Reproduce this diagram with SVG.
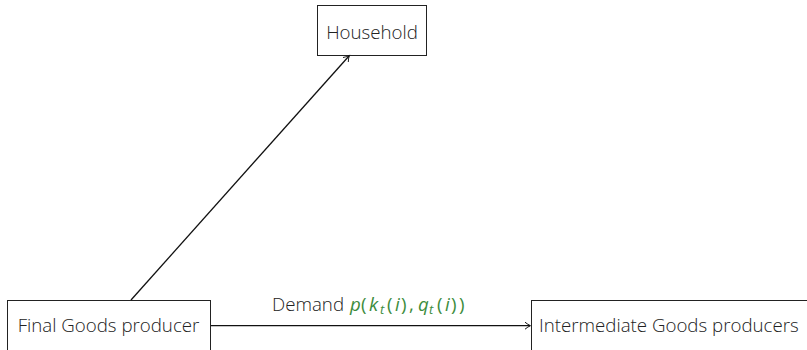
<svg xmlns="http://www.w3.org/2000/svg" width="807" height="350" viewBox="0 0 807 350">
<style>
.box{fill:#fff;stroke:#222;stroke-width:1}
.lbl{font-family:"Open Sans",sans-serif;font-weight:300;font-size:18.7px;fill:#222}
.math{font-family:"Open Sans",sans-serif;font-size:18.7px;fill:#3c8c3c}
.it{font-style:italic}
.sub{font-style:italic;font-size:13px}
.edge{stroke:#111;stroke-width:1.3;fill:none}
</style>
<defs>
<marker id="arr" markerWidth="10" markerHeight="10" refX="7" refY="5" orient="auto" markerUnits="userSpaceOnUse">
<path d="M2,1.5 Q5,4 7.5,5 Q5,6 2,8.5" fill="none" stroke="#111" stroke-width="1"/>
</marker>
</defs>
<rect width="807" height="350" fill="#fff"/>
<g id="household">
<rect class="box" x="317.5" y="5.5" width="109" height="50"/>
<text class="lbl" x="372" y="39" text-anchor="middle">Household</text>
</g>
<g id="final">
<rect class="box" x="7.5" y="300.5" width="203" height="60"/>
<text class="lbl" x="108.5" y="332" text-anchor="middle">Final Goods producer</text>
</g>
<g id="intermediate">
<rect class="box" x="531.5" y="300.5" width="285" height="60"/>
<text class="lbl" x="539" y="332">Intermediate Goods producers</text>
</g>
<g id="connectors">
<line class="edge" x1="131" y1="300" x2="349" y2="56" marker-end="url(#arr)"/>
<line class="edge" x1="211" y1="325.7" x2="530" y2="325.7" marker-end="url(#arr)"/>
<text class="lbl" x="272" y="311">Demand</text>
<text class="math" y="311"><tspan class="it" x="350">p</tspan><tspan x="361">(</tspan><tspan class="it" x="369">k</tspan><tspan class="sub" x="380" y="314">t</tspan><tspan x="387" y="311">(</tspan><tspan class="it" x="395">i</tspan><tspan x="401">)</tspan><tspan x="409">,</tspan><tspan class="it" x="418">q</tspan><tspan class="sub" x="429" y="314">t</tspan><tspan x="437" y="311">(</tspan><tspan class="it" x="445">i</tspan><tspan x="451">)</tspan><tspan x="459">)</tspan></text>
</g>
</svg>
